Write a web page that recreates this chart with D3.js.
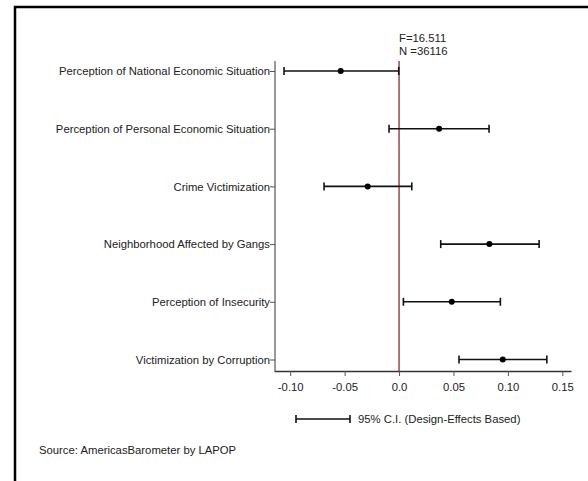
<!DOCTYPE html>
<html><head><meta charset="utf-8">
<script src="https://cdn.jsdelivr.net/npm/d3@7"></script>
<style>body{margin:0;background:#fff}svg{display:block}text{font-family:"Liberation Sans",Arial,sans-serif;}</style>
</head><body>
<script>
const categories = ["Perception of National Economic Situation","Perception of Personal Economic Situation","Crime Victimization","Neighborhood Affected by Gangs","Perception of Insecurity","Victimization by Corruption"];
const estimates = [-0.0536, 0.0368, -0.0288, 0.0830, 0.0484, 0.0953];
const lower = [-0.1057, -0.0092, -0.0689, 0.0383, 0.0040, 0.0551];
const upper = [-0.0003, 0.0827, 0.0117, 0.1287, 0.0931, 0.1358];
const xTicks = [-0.10, -0.05, 0.0, 0.05, 0.10, 0.15];
const tickLabels = ["-0.10","-0.05","0.0","0.05","0.10","0.15"];
const statLines = ["F=16.511","N =36116"];
const legendText = "95% C.I. (Design-Effects Based)";
const sourceText = "Source: AmericasBarometer by LAPOP";

const W = 588, H = 481, FS = 11.3;
const svg = d3.select("body").append("svg").attr("width", W).attr("height", H);

// frame (only top and left edges visible)
svg.append("rect").attr("x", 15).attr("y", 7).attr("width", W + 20).attr("height", H + 20)
  .attr("fill", "none").attr("stroke", "#000").attr("stroke-width", 2.5);

const pLeft = 275, pRight = 571, pTop = 61, pBottom = 371;
const x = d3.scaleLinear().domain([-0.1149, 0.158]).range([274, pRight]);
const y = d3.scaleLinear().domain([0, categories.length - 1]).range([71, 359.5]);

// x axis
const xAxis = d3.axisBottom(x).tickValues(xTicks).tickFormat((d, i) => tickLabels[i]).tickSize(5).tickPadding(5).tickSizeOuter(0);
const gx = svg.append("g").attr("transform", `translate(0,${pBottom})`).call(xAxis);
gx.select(".domain").attr("stroke", "#333").attr("stroke-width", 1.3);
gx.selectAll(".tick line").attr("stroke", "#555");
gx.selectAll(".tick text").attr("font-size", FS).attr("fill", "#222").attr("dy", "0.9em")
  .style("font-family", "'Liberation Sans', Arial, sans-serif");

// y axis
const yAxis = d3.axisLeft(y).tickValues(d3.range(categories.length)).tickFormat(i => categories[i]).tickSize(5).tickPadding(0).tickSizeOuter(0);
const gy = svg.append("g").attr("transform", `translate(${pLeft},0)`).call(yAxis);
gy.select(".domain").attr("d", `M0,${pTop}V${pBottom}`).attr("stroke", "#777").attr("stroke-width", 1.5);
gy.selectAll(".tick line").attr("stroke", "#555");
gy.selectAll(".tick text").attr("font-size", FS).attr("fill", "#222")
  .style("font-family", "'Liberation Sans', Arial, sans-serif");

// reference line at zero
svg.append("line").attr("x1", x(0)).attr("x2", x(0)).attr("y1", pTop).attr("y2", pBottom)
  .attr("stroke", "#8b2a2a").attr("stroke-width", 1.3);

// stats text
svg.selectAll("text.stat").data(statLines).join("text").attr("class", "stat")
  .attr("x", x(0)).attr("y", (d, i) => 42 + i * 13.3).attr("font-size", FS).attr("fill", "#222").text(d => d);

// error bars
const g = svg.append("g");
categories.forEach((c, i) => {
  const yy = y(i);
  g.append("line").attr("x1", x(lower[i])).attr("x2", x(upper[i])).attr("y1", yy).attr("y2", yy)
    .attr("stroke", "#111").attr("stroke-width", 1.6);
  [lower[i], upper[i]].forEach(v => {
    g.append("line").attr("x1", x(v)).attr("x2", x(v)).attr("y1", yy - 4).attr("y2", yy + 4)
      .attr("stroke", "#111").attr("stroke-width", 1.6);
  });
  g.append("circle").attr("cx", x(estimates[i])).attr("cy", yy).attr("r", 3).attr("fill", "#000");
});

// legend
const ly = 419;
svg.append("line").attr("x1", 296).attr("x2", 350).attr("y1", ly).attr("y2", ly).attr("stroke", "#111").attr("stroke-width", 1.6);
[296, 350].forEach(v => svg.append("line").attr("x1", v).attr("x2", v).attr("y1", ly - 4).attr("y2", ly + 4).attr("stroke", "#111").attr("stroke-width", 1.6));
svg.append("text").attr("x", 358).attr("y", ly + 4).attr("font-size", FS).attr("fill", "#222").text(legendText);

// source
svg.append("text").attr("x", 39).attr("y", 454).attr("font-size", FS).attr("fill", "#222").text(sourceText);
</script>
</body></html>
